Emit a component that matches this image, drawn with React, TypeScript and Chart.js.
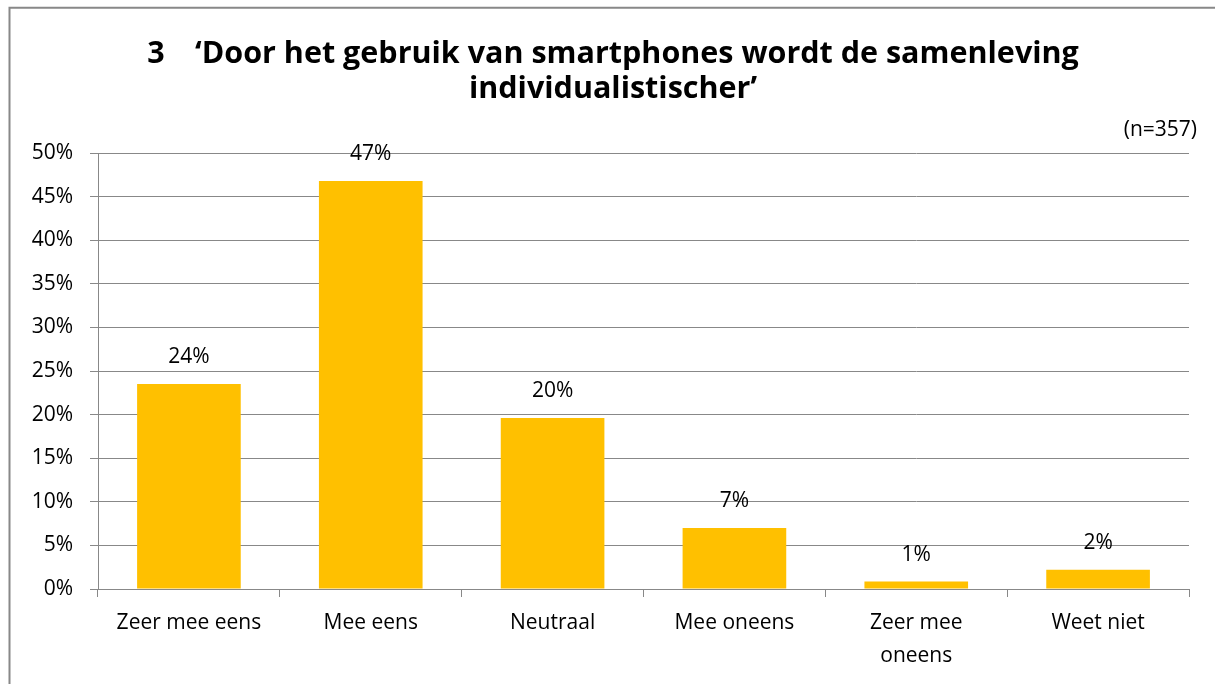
import { useEffect, useRef } from 'react';
import { Chart, registerables } from 'chart.js';

Chart.register(...registerables);

const categories: (string | string[])[] = [
  'Zeer mee eens',
  'Mee eens',
  'Neutraal',
  'Mee oneens',
  ['Zeer mee', 'oneens'],
  'Weet niet',
];
const values = [23.5, 46.8, 19.6, 7.0, 0.85, 2.2];
const valueLabels = ['24%', '47%', '20%', '7%', '1%', '2%'];
const titleLines = [
  '3\u2003\u2018Door het gebruik van smartphones wordt de samenleving',
  'individualistischer\u2019',
];
const sampleNote = '(n=357)';
const yMax = 50;
const yStep = 5;

const GRID = '#888888';
const BAR = '#FFC000';
const FONT = '"Open Sans", sans-serif';

const decorPlugin = {
  id: 'decor',
  afterDraw(chart: any) {
    const ctx = chart.ctx as CanvasRenderingContext2D;
    ctx.save();
    // frame (top + left visible)
    ctx.strokeStyle = GRID;
    ctx.lineWidth = 2;
    ctx.beginPath();
    ctx.moveTo(9.5, 700);
    ctx.lineTo(9.5, 7.7);
    ctx.lineTo(1220, 7.7);
    ctx.stroke();

    // title
    ctx.fillStyle = '#000';
    ctx.textAlign = 'center';
    ctx.textBaseline = 'alphabetic';
    ctx.font = `bold 30.5px ${FONT}`;
    ctx.fillText(titleLines[0], 613, 63);
    ctx.fillText(titleLines[1], 613, 98);

    // n note
    ctx.font = `21px ${FONT}`;
    ctx.textAlign = 'right';
    ctx.textBaseline = 'middle';
    ctx.fillText(sampleNote, 1197, 130);

    // value labels
    const meta = chart.getDatasetMeta(0);
    ctx.font = `21px ${FONT}`;
    ctx.textAlign = 'center';
    ctx.textBaseline = 'middle';
    meta.data.forEach((el: any, i: number) => {
      ctx.fillText(valueLabels[i], el.x, el.y - 27);
    });
    ctx.restore();
  },
};

export default function App() {
  const ref = useRef<HTMLCanvasElement>(null);
  useEffect(() => {
    document.body.style.margin = '0';
    const canvas = ref.current!;
    const chart = new Chart(canvas, {
      type: 'bar',
      data: {
        labels: categories as any,
        datasets: [
          {
            data: values,
            backgroundColor: BAR,
            borderWidth: 0,
            barPercentage: 0.57,
            categoryPercentage: 1,
          },
        ],
      },
      options: {
        animation: false,
        responsive: false,
        devicePixelRatio: 1,
        layout: { padding: { top: 153, right: 26, bottom: 0, left: 0 } },
        plugins: {
          legend: { display: false },
          title: { display: false },
          tooltip: { enabled: false },
        },
        scales: {
          x: {
            offset: true,
            grid: {
              offset: true,
              drawOnChartArea: false,
              drawTicks: true,
              tickLength: 8,
              color: GRID,
            },
            border: { display: true, color: GRID, width: 1 },
            ticks: {
              color: '#000',
              font: { family: FONT, size: 21, lineHeight: 1.6 },
              padding: 9,
              maxRotation: 0,
              autoSkip: false,
            },
            afterFit(scale: any) {
              scale.height = 95;
            },
          },
          y: {
            min: 0,
            max: yMax,
            ticks: {
              stepSize: yStep,
              color: '#000',
              font: { family: FONT, size: 21 },
              padding: 17,
              callback: (v: any) => `${v}%`,
            },
            grid: {
              color: GRID,
              lineWidth: 1,
              drawTicks: true,
              tickLength: 8,
            },
            border: { display: true, color: GRID, width: 1 },
            afterFit(scale: any) {
              scale.width = 98;
            },
          },
        },
      },
      plugins: [decorPlugin],
    });
    return () => chart.destroy();
  }, []);
  return (
    <div style={{ width: 1215, height: 684, background: '#fff' }}>
      <canvas ref={ref} width={1215} height={684} style={{ display: 'block' }} />
    </div>
  );
}
